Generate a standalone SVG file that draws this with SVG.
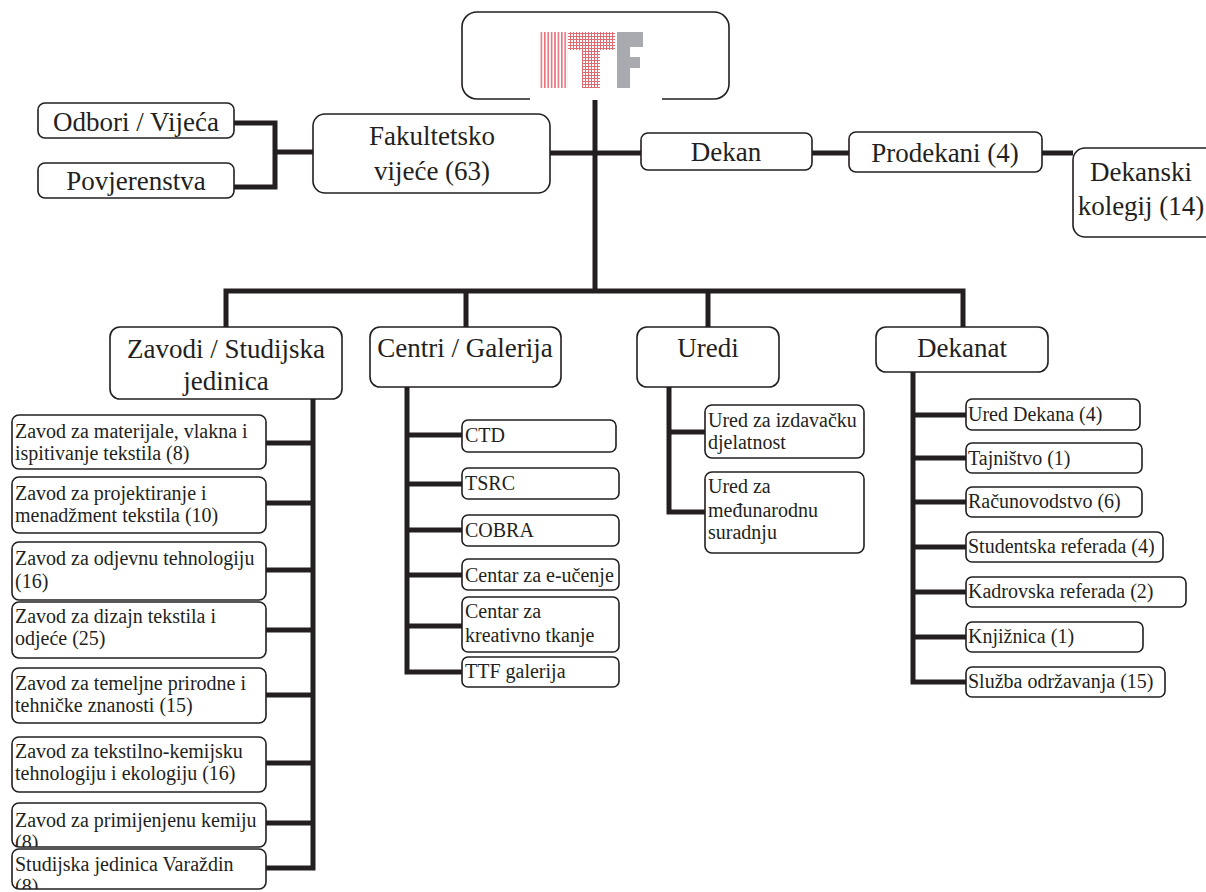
<svg xmlns="http://www.w3.org/2000/svg" width="1206" height="892" viewBox="0 0 1206 892">
<style>
.box{fill:#fff;stroke:#231f20;stroke-width:1.6}
.ln{fill:none;stroke:#231f20;stroke-width:5;stroke-linejoin:miter}
.h{font-size:27px;fill:#231f20;text-anchor:middle}
.s{font-size:20px;fill:#231f20}
</style>
<defs>
<pattern id="vstripe" patternUnits="userSpaceOnUse" width="3.4" height="10"><rect x="0" y="0" width="1.6" height="10" fill="#e8737c"/></pattern>
<pattern id="grid" patternUnits="userSpaceOnUse" width="3" height="3"><rect width="3" height="3" fill="#fff"/><path d="M0 0.5H3M0.5 0V3" stroke="#e06a72" stroke-width="1"/></pattern>
<clipPath id="c7"><rect x="12" y="803" width="254" height="44"/></clipPath>
<clipPath id="c8"><rect x="12" y="849" width="254" height="40"/></clipPath>
</defs>
<rect width="1206" height="892" fill="#fff"/>

<g id="connectors">
<path class="ln" d="M595 100V291"/>
<path class="ln" d="M226 327V291H963V327"/>
<path class="ln" d="M466 291V327M708 291V327"/>
<path class="ln" d="M550 153H641"/>
<path class="ln" d="M812 153H849"/>
<path class="ln" d="M1042 153H1073"/>
<path class="ln" d="M234 123H275V187H234M275 152H313"/>
<path class="ln" d="M313 399V868H266M313 443H266M313 503H266M313 570H266M313 630H266M313 695H266M313 763H266M313 823H266"/>
<path class="ln" d="M407 387V672H462M407 435H462M407 484H462M407 530H462M407 575H462M407 626H462"/>
<path class="ln" d="M669 387V512H705M669 432H705"/>
<path class="ln" d="M913 372V682H966M913 415H966M913 458H966M913 502H966M913 547H966M913 592H966M913 637H966"/>
</g>

<g id="ttf">
<path d="M530,99H477A15,15 0 0 1 462,84V27A15,15 0 0 1 477,12H714A15,15 0 0 1 729,27V84A15,15 0 0 1 714,99H662" fill="#fff" stroke="#231f20" stroke-width="1.6"/>
<rect x="540" y="32" width="28" height="56" fill="url(#vstripe)"/>
<path d="M568 32H615V50H600V88H582V50H568Z" fill="url(#grid)"/>
<path d="M617 32H643V47H630V57H640V68H630V88H617Z" fill="#a9a9b0"/>
</g>

<g font-family="'Liberation Serif', 'DejaVu Serif', serif">
<g id="odbori"><rect class="box" x="38" y="103" width="196" height="35" rx="7"/><text class="h" x="136" y="131">Odbori / Vijeća</text></g>
<g id="povjerenstva"><rect class="box" x="38" y="163" width="196" height="35" rx="7"/><text class="h" x="136" y="190">Povjerenstva</text></g>
<g id="fakultetsko"><rect class="box" x="313" y="114" width="237" height="79" rx="12"/><text class="h" x="432" y="145">Fakultetsko</text><text class="h" x="432" y="180">vijeće (63)</text></g>
<g id="dekan"><rect class="box" x="641" y="133" width="171" height="37" rx="7"/><text class="h" x="726" y="161">Dekan</text></g>
<g id="prodekani"><rect class="box" x="849" y="132" width="193" height="40" rx="7"/><text class="h" x="945" y="162">Prodekani (4)</text></g>
<g id="dekanski"><rect class="box" x="1073" y="148" width="150" height="89" rx="12"/><text class="h" x="1141" y="181">Dekanski</text><text class="h" x="1141" y="215">kolegij (14)</text></g>

<g id="zavodi"><rect class="box" x="110" y="327" width="232" height="72" rx="10"/><text class="h" x="226" y="358">Zavodi / Studijska</text><text class="h" x="226" y="390">jedinica</text></g>
<g id="centri"><rect class="box" x="370" y="327" width="191" height="60" rx="10"/><text class="h" x="465" y="357">Centri / Galerija</text></g>
<g id="uredi"><rect class="box" x="637" y="327" width="142" height="60" rx="10"/><text class="h" x="708" y="357">Uredi</text></g>
<g id="dekanat"><rect class="box" x="876" y="327" width="172" height="45" rx="10"/><text class="h" x="962" y="357">Dekanat</text></g>

<g id="z1"><rect class="box" x="12" y="415" width="254" height="54" rx="7"/><text class="s" x="15" y="438">Zavod za materijale, vlakna i</text><text class="s" x="15" y="460">ispitivanje tekstila (8)</text></g>
<g id="z2"><rect class="box" x="12" y="477" width="254" height="56" rx="7"/><text class="s" x="15" y="500">Zavod za projektiranje i</text><text class="s" x="15" y="522">menadžment tekstila (10)</text></g>
<g id="z3"><rect class="box" x="12" y="542" width="254" height="58" rx="7"/><text class="s" x="15" y="565">Zavod za odjevnu tehnologiju</text><text class="s" x="15" y="588">(16)</text></g>
<g id="z4"><rect class="box" x="12" y="602" width="254" height="56" rx="7"/><text class="s" x="15" y="623">Zavod za dizajn tekstila i</text><text class="s" x="15" y="645">odjeće (25)</text></g>
<g id="z5"><rect class="box" x="12" y="668" width="254" height="55" rx="7"/><text class="s" x="15" y="690">Zavod za temeljne prirodne i</text><text class="s" x="15" y="712">tehničke znanosti (15)</text></g>
<g id="z6"><rect class="box" x="12" y="737" width="254" height="55" rx="7"/><text class="s" x="15" y="758">Zavod za tekstilno-kemijsku</text><text class="s" x="15" y="780">tehnologiju i ekologiju (16)</text></g>
<g id="z7"><rect class="box" x="12" y="803" width="254" height="44" rx="7"/><g clip-path="url(#c7)"><text class="s" x="15" y="827">Zavod za primijenjenu kemiju</text><text class="s" x="15" y="849">(8)</text></g></g>
<g id="z8"><rect class="box" x="12" y="849" width="254" height="40" rx="7"/><g clip-path="url(#c8)"><text class="s" x="15" y="871">Studijska jedinica Varaždin</text><text class="s" x="15" y="893">(8)</text></g></g>

<g id="c_ctd"><rect class="box" x="462" y="420" width="154" height="32" rx="6"/><text class="s" x="465" y="442">CTD</text></g>
<g id="c_tsrc"><rect class="box" x="462" y="468" width="157" height="31" rx="6"/><text class="s" x="465" y="490">TSRC</text></g>
<g id="c_cobra"><rect class="box" x="462" y="515" width="157" height="31" rx="6"/><text class="s" x="465" y="537">COBRA</text></g>
<g id="c_eucenje"><rect class="box" x="462" y="559" width="157" height="31" rx="6"/><text class="s" x="465" y="582">Centar za e-učenje</text></g>
<g id="c_tkanje"><rect class="box" x="462" y="597" width="157" height="55" rx="6"/><text class="s" x="465" y="618">Centar za</text><text class="s" x="465" y="642">kreativno tkanje</text></g>
<g id="c_galerija"><rect class="box" x="462" y="657" width="157" height="30" rx="6"/><text class="s" x="465" y="678">TTF galerija</text></g>

<g id="u_izdavacka"><rect class="box" x="705" y="405" width="159" height="53" rx="7"/><text class="s" x="708" y="427">Ured za izdavačku</text><text class="s" x="708" y="449">djelatnost</text></g>
<g id="u_medunarodna"><rect class="box" x="705" y="472" width="159" height="81" rx="7"/><text class="s" x="708" y="493">Ured za</text><text class="s" x="708" y="517">međunarodnu</text><text class="s" x="708" y="539">suradnju</text></g>

<g id="d_ured"><rect class="box" x="966" y="399" width="174" height="31" rx="6"/><text class="s" x="968" y="421">Ured Dekana (4)</text></g>
<g id="d_tajnistvo"><rect class="box" x="966" y="443" width="176" height="30" rx="6"/><text class="s" x="968" y="465">Tajništvo (1)</text></g>
<g id="d_racun"><rect class="box" x="966" y="487" width="176" height="30" rx="6"/><text class="s" x="968" y="508">Računovodstvo (6)</text></g>
<g id="d_student"><rect class="box" x="966" y="532" width="197" height="30" rx="6"/><text class="s" x="968" y="553">Studentska referada (4)</text></g>
<g id="d_kadrovska"><rect class="box" x="966" y="577" width="220" height="30" rx="6"/><text class="s" x="968" y="598">Kadrovska referada (2)</text></g>
<g id="d_knjiznica"><rect class="box" x="966" y="622" width="177" height="30" rx="6"/><text class="s" x="968" y="643">Knjižnica (1)</text></g>
<g id="d_sluzba"><rect class="box" x="966" y="667" width="199" height="30" rx="6"/><text class="s" x="968" y="688">Služba održavanja (15)</text></g>
</g>
</svg>
